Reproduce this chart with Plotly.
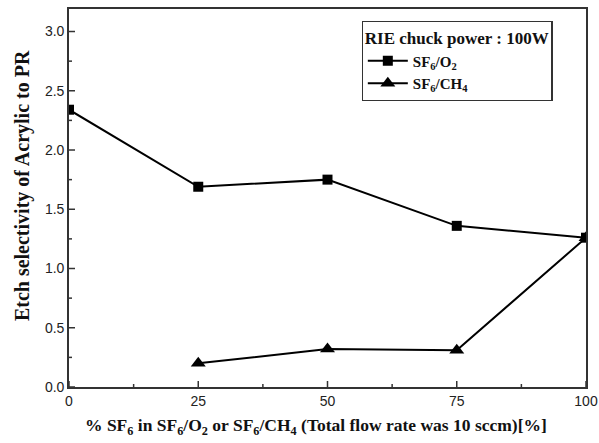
import plotly.graph_objects as go

x_o2 = [0, 25, 50, 75, 100]
y_o2 = [2.34, 1.69, 1.75, 1.36, 1.26]
x_ch4 = [25, 50, 75, 100]
y_ch4 = [0.20, 0.32, 0.31, 1.26]

x_ticks = [0, 25, 50, 75, 100]
y_ticks = [0.0, 0.5, 1.0, 1.5, 2.0, 2.5, 3.0]

serif = "Liberation Serif, Times New Roman, serif"
sans = "Liberation Sans, Arial, sans-serif"
tick_col = "#333"

fig = go.Figure()
fig.add_trace(go.Scatter(
    x=x_o2, y=y_o2, mode="lines+markers", name="<b>SF<sub>6</sub>/O<sub>2</sub></b>",
    line=dict(color="black", width=2),
    marker=dict(symbol="square", size=10, color="black"),
))
fig.add_trace(go.Scatter(
    x=x_ch4, y=y_ch4, mode="lines+markers", name="<b>SF<sub>6</sub>/CH<sub>4</sub></b>",
    line=dict(color="black", width=2),
    marker=dict(symbol="triangle-up", size=13, color="black"),
))

axis_common = dict(
    showline=True, linecolor=tick_col, linewidth=1.6, mirror=True,
    ticks="", showgrid=False, zeroline=False, automargin=False,
    tickfont=dict(family=sans, size=14, color="#222"),
)

fig.update_xaxes(range=[0, 100], tickvals=x_ticks, ticktext=[str(v) for v in x_ticks], **axis_common)
fig.update_yaxes(range=[0, 3.19], tickvals=y_ticks, ticktext=[f"{v:.1f}" for v in y_ticks], **axis_common)

# inside tick marks (major + minor halfway), positioned by the axes' data scales
x_minor = [(a + b) / 2 for a, b in zip(x_ticks[:-1], x_ticks[1:])]
y_minor = [(a + b) / 2 for a, b in zip(y_ticks[:-1], y_ticks[1:])]
for v, ln in [(v, 6) for v in x_ticks] + [(v, 3) for v in x_minor]:
    fig.add_shape(type="line", xref="x", yref="paper", ysizemode="pixel", yanchor=0,
                  x0=v, x1=v, y0=0, y1=ln, line=dict(color=tick_col, width=1.5), layer="above")
for v, ln in [(v, 6) for v in y_ticks] + [(v, 3) for v in y_minor]:
    fig.add_shape(type="line", yref="y", xref="paper", xsizemode="pixel", xanchor=0,
                  y0=v, y1=v, x0=0, x1=ln, line=dict(color=tick_col, width=1.5), layer="above")

fig.add_annotation(
    text="<b>% SF<sub>6</sub> in SF<sub>6</sub>/O<sub>2</sub> or SF<sub>6</sub>/CH<sub>4</sub> (Total flow rate was 10 sccm)[%]</b>",
    xref="paper", yref="paper", x=0.478, y=-0.105, xanchor="center", yanchor="middle",
    showarrow=False, font=dict(family=serif, size=17.5, color="#111"),
)
fig.add_annotation(
    text="<b>Etch selectivity of Acrylic to PR</b>",
    xref="paper", yref="paper", x=-0.091, y=0.534, xanchor="center", yanchor="middle",
    textangle=-90, showarrow=False, font=dict(family=serif, size=20, color="#111"),
)

fig.update_layout(
    width=599, height=443,
    margin=dict(l=69, r=13, t=9, b=56),
    plot_bgcolor="white", paper_bgcolor="white",
    legend=dict(
        title=dict(text="<b>RIE chuck power : 100W</b>", font=dict(family=serif, size=17, color="#111")),
        font=dict(family=serif, size=15, color="#111"),
        x=0.566, y=0.968, xanchor="left", yanchor="top",
        bordercolor=tick_col, borderwidth=1.2, bgcolor="white",
        tracegroupgap=0, itemwidth=40,
    ),
)

fig.write_html("out.html")
